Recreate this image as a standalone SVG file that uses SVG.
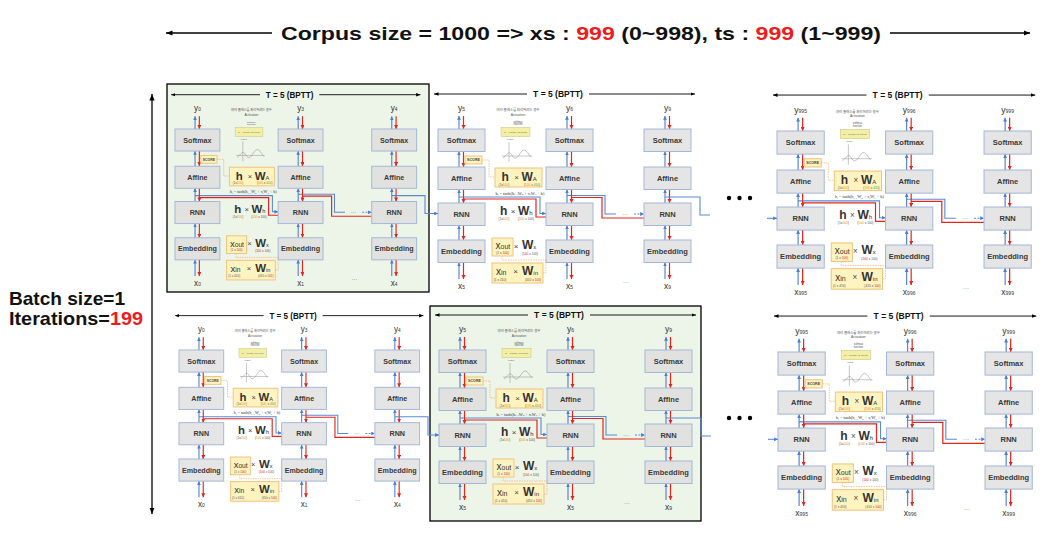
<svg xmlns="http://www.w3.org/2000/svg" xmlns:xlink="http://www.w3.org/1999/xlink" width="1046" height="544" viewBox="0 0 1046 544">
<style>
text{font-family:"Liberation Sans",Arial,sans-serif}
.bx{fill:#dcdcdc;fill-opacity:.75;stroke:#a3b7d9;stroke-width:1}
.bt{font-size:7.5px;font-weight:bold;fill:#3a3a3a;text-anchor:middle}
.ub{stroke:#4a7dd1;stroke-width:1.1;fill:none;marker-end:url(#ab)}
.dr{stroke:#e3261c;stroke-width:1.2;fill:none;marker-end:url(#ar)}
.hb{stroke:#5b89d6;stroke-width:1.1;fill:none}
.hba{stroke:#5b89d6;stroke-width:1.1;fill:none;marker-end:url(#ab)}
.hr{stroke:#e3261c;stroke-width:1.2;fill:none}
.tl{stroke:#000;stroke-width:.9}
.tt{font-size:8.5px;font-weight:bold;text-anchor:middle;fill:#111}
.lb{font-size:8.5px;fill:#333;text-anchor:middle}
.sb{font-size:5px}
.od{stroke:#f2a552;stroke-width:.6;stroke-dasharray:1.5 1;fill:none}
.yb{fill:#fff3bf;stroke:#f4c27c;stroke-width:1}
.mh{font-size:12px;font-weight:bold;fill:#333}
.mx{font-size:8px;fill:#444;text-anchor:middle}
.ms{font-size:6px;font-weight:normal}
.dm{font-size:3.2px;fill:#555;text-anchor:middle}
.o{fill:#f08a00}
.g{fill:#3aa33a}
.r{fill:#e02020}
.tiny{font-size:3px;fill:#555;text-anchor:middle}
.big{font-size:19px;font-weight:bold;fill:#111}
.ka{stroke:#000;stroke-width:1.3;fill:none}
</style>
<defs>
<marker id="ab" viewBox="0 0 6 6" refX="6" refY="3" markerWidth="3.5" markerHeight="3.5" orient="auto"><path d="M0,0L6,3L0,6z" fill="#4a7dd1"/></marker>
<marker id="ar" viewBox="0 0 6 6" refX="6" refY="3" markerWidth="3.5" markerHeight="3.5" orient="auto"><path d="M0,0L6,3L0,6z" fill="#e3261c"/></marker>
<marker id="ak" viewBox="0 0 10 10" refX="10" refY="5" markerWidth="5" markerHeight="5" orient="auto-start-reverse"><path d="M0,1L10,5L0,9z" fill="#000"/></marker>
<g id="col">
<line class="ub" x1="21" y1="0" x2="21" y2="-13"/>
<line class="dr" x1="25.5" y1="-13" x2="25.5" y2="0"/>
<line class="ub" x1="21" y1="38" x2="21" y2="22.5"/>
<line class="dr" x1="25.5" y1="22.5" x2="25.5" y2="38"/>
<line class="ub" x1="21" y1="74" x2="21" y2="60.5"/>
<line class="dr" x1="25.5" y1="60.5" x2="25.5" y2="74"/>
<line class="ub" x1="21" y1="111" x2="21" y2="96.5"/>
<line class="dr" x1="25.5" y1="96.5" x2="25.5" y2="111"/>
<line class="ub" x1="21" y1="150" x2="21" y2="133.5"/>
<line class="dr" x1="25.5" y1="133.5" x2="25.5" y2="150"/>
<rect class="bx" x="0" y="0" width="47" height="22.5"/>
<rect class="bx" x="0" y="38" width="47" height="22.5"/>
<rect class="bx" x="0" y="74" width="47" height="22.5"/>
<rect class="bx" x="0" y="111" width="47" height="22.5"/>
<text class="bt" x="23.5" y="14">Softmax</text>
<text class="bt" x="23.5" y="52">Affine</text>
<text class="bt" x="23.5" y="88">RNN</text>
<text class="bt" x="23.5" y="125">Embedding</text>
</g>
<g id="panel">
<line class="tl" x1="-4" y1="-35" x2="89" y2="-35" marker-start="url(#ak)"/>
<line class="tl" x1="151" y1="-35" x2="257" y2="-35" marker-end="url(#ak)"/>
<text class="tt" x="120" y="-32">T = 5 (BPTT)</text>
<path class="hba" d="M21 68H102V84.5H108"/>
<path class="hr" d="M108 88H98V70H25.5"/>
<path class="hb" d="M129 66.5H167V85H178"/>
<path class="hba" d="M196 85H206" stroke-dasharray="2 1.5"/>
<path class="hr" d="M206 89H164V68.5H133.5"/>
<text class="tiny" x="187" y="86.5" style="font-size:6px">···</text>
<text class="tiny" x="188" y="155" style="font-size:6px">···</text>
<use xlink:href="#col" href="#col"/>
<use xlink:href="#col" href="#col" x="108"/>
<use xlink:href="#col" href="#col" x="206"/>
<g id="ann">
<text class="tiny" x="80" y="-18" style="font-family:'Noto Sans CJK KR',sans-serif;font-size:3.4px">여러 클래스를 처리하려는 경우</text>
<text class="tiny g" x="80" y="-13.5" style="font-size:3.4px">Activation</text>
<text class="tiny" x="80" y="-6.5" style="font-size:2.6px">softmax</text>
<text class="tiny" x="80" y="-3.6" style="font-size:2.6px">function</text>
<rect x="63" y="-1.5" width="29" height="9" fill="#f3f0a6" stroke="#c4c27a" stroke-width=".5"/>
<text class="tiny" x="77.5" y="4" style="font-size:2.3px">yk = exp(ak) / Σ exp(ai)</text>
<text class="tiny" x="72" y="11" style="font-size:2.2px">output</text>
<path d="M71 13V33M64 27H94" stroke="#777" stroke-width=".4"/>
<path d="M65 29C68 27 70 23 72 24C74 25 75 30 78 29C81 28 83 21 86 21C89 21 91 26 93 28" stroke="#888" stroke-width=".5" fill="none"/>
<rect class="yb" x="27" y="27" width="17" height="8" stroke-width=".7"/>
<text class="tiny" x="35.5" y="32.3" style="font-size:3.6px;font-weight:bold;fill:#444">SCORE</text>
<path class="od" d="M44 31H51V48H57"/>
<rect class="yb" x="57" y="39" width="47" height="19"/>
<text class="mh" x="63.5" y="52">h</text>
<text class="mx" x="78.5" y="51">×</text>
<text class="mh" x="83.5" y="52">W<tspan class="ms">A</tspan></text>
<text class="dm" x="66" y="56.5">(1x<tspan class="o">100</tspan>)</text>
<text class="dm" x="94" y="56.5">(<tspan class="o">100</tspan> x <tspan class="g">410</tspan>)</text>
<text x="82" y="65.5" style="font-family:'Liberation Serif',serif;font-size:4.3px;fill:#333;text-anchor:middle">h<tspan style="font-size:2.8px" dy="0.8">t</tspan><tspan dy="-0.8"> = tanh(h</tspan><tspan style="font-size:2.8px" dy="0.8">t−1</tspan><tspan dy="-0.8">W</tspan><tspan style="font-size:2.8px" dy="0.8">h</tspan><tspan dy="-0.8"> + x</tspan><tspan style="font-size:2.8px" dy="0.8">t</tspan><tspan dy="-0.8">W</tspan><tspan style="font-size:2.8px" dy="0.8">x</tspan><tspan dy="-0.8"> + b)</tspan></text>
<text class="mh" x="62" y="85.5">h</text>
<text class="mx" x="75" y="84.5">×</text>
<text class="mh" x="80" y="85.5">W<tspan class="ms">h</tspan></text>
<text class="dm" x="66" y="91">(1x<tspan class="o">100</tspan>)</text>
<text class="dm" x="88" y="91">(<tspan class="o">100</tspan> x 100)</text>
<rect class="yb" x="54" y="109" width="21" height="18"/>
<text x="57.5" y="120" style="font-size:10px;fill:#333">x<tspan style="font-size:7px">out</tspan></text>
<text class="dm" x="64.5" y="125">(1 x <tspan class="r">100</tspan>)</text>
<text class="mx" x="78" y="119.5">×</text>
<text class="mh" x="84" y="120">W<tspan class="ms">x</tspan></text>
<text class="dm" x="92" y="125.5">(<tspan class="r">100</tspan> x 100)</text>
<rect class="yb" x="54" y="134" width="51" height="20"/>
<text x="58" y="146" style="font-size:10px;fill:#333">x<tspan style="font-size:7px">in</tspan></text>
<text class="mx" x="77.5" y="145">×</text>
<text class="mh" x="84" y="146">W<tspan class="ms">in</tspan></text>
<text class="dm" x="62" y="151.5">(1 x 410)</text>
<text class="dm" x="95" y="151.5">(410 x <tspan class="r">100</tspan>)</text>
<path class="od" d="M105 144H108V131H64V127.5"/>
</g>
</g>
</defs>

<rect width="1046" height="544" fill="#fff"/>

<g id="title">
<line class="ka" x1="166" y1="33" x2="272" y2="33" marker-start="url(#ak)"/>
<line class="ka" x1="890" y1="33" x2="1030" y2="33" marker-end="url(#ak)"/>
<text class="big" x="281" y="39.5" textLength="600" lengthAdjust="spacingAndGlyphs">Corpus size = 1000 =&gt; xs : <tspan fill="#f21a1a">999</tspan> (0~998), ts : <tspan fill="#f21a1a">999</tspan> (1~999)</text>
</g>

<g id="batch">
<line class="ka" x1="152" y1="94" x2="152" y2="514" marker-start="url(#ak)" marker-end="url(#ak)"/>
<text class="big" x="9" y="305" textLength="116" lengthAdjust="spacingAndGlyphs">Batch size=1</text>
<text class="big" x="9" y="325" textLength="134" lengthAdjust="spacingAndGlyphs">Iterations=<tspan fill="#f21a1a">199</tspan></text>
</g>

<rect x="167" y="84" width="262" height="208" fill="#edf4e8" stroke="#000" stroke-width="1.3"/>
<rect x="430" y="306" width="271" height="215" fill="#edf4e8" stroke="#000" stroke-width="1.3"/>

<g id="panel-top-1" transform="translate(175,129) scale(0.955,0.98)">
<use xlink:href="#panel" href="#panel"/>
<text class="lb" x="23.5" y="-18">y<tspan class="sb">0</tspan></text>
<text class="lb" x="131.5" y="-18">y<tspan class="sb">3</tspan></text>
<text class="lb" x="229.5" y="-18">y<tspan class="sb">4</tspan></text>
<text class="lb" x="23.5" y="160">x<tspan class="sb">0</tspan></text>
<text class="lb" x="131.5" y="160">x<tspan class="sb">1</tspan></text>
<text class="lb" x="229.5" y="160">x<tspan class="sb">4</tspan></text>
</g>
<g id="panel-top-2" transform="translate(438,129)">
<use xlink:href="#panel" href="#panel"/>
<text class="lb" x="23.5" y="-18">y<tspan class="sb">5</tspan></text>
<text class="lb" x="131.5" y="-18">y<tspan class="sb">6</tspan></text>
<text class="lb" x="229.5" y="-18">y<tspan class="sb">9</tspan></text>
<text class="lb" x="23.5" y="160">x<tspan class="sb">5</tspan></text>
<text class="lb" x="131.5" y="160">x<tspan class="sb">5</tspan></text>
<text class="lb" x="229.5" y="160">x<tspan class="sb">9</tspan></text>
</g>
<g id="panel-top-3" transform="translate(777,131) scale(1.005,1.027)">
<use xlink:href="#panel" href="#panel"/>
<text class="lb" x="23.5" y="-18">y<tspan class="sb">995</tspan></text>
<text class="lb" x="131.5" y="-18">y<tspan class="sb">996</tspan></text>
<text class="lb" x="229.5" y="-18">y<tspan class="sb">999</tspan></text>
<text class="lb" x="23.5" y="160">x<tspan class="sb">995</tspan></text>
<text class="lb" x="131.5" y="160">x<tspan class="sb">996</tspan></text>
<text class="lb" x="229.5" y="160">x<tspan class="sb">999</tspan></text>
</g>
<g id="panel-bottom-1" transform="translate(179,350) scale(0.951,0.982)">
<use xlink:href="#panel" href="#panel"/>
<text class="lb" x="23.5" y="-18">y<tspan class="sb">0</tspan></text>
<text class="lb" x="131.5" y="-18">y<tspan class="sb">3</tspan></text>
<text class="lb" x="229.5" y="-18">y<tspan class="sb">4</tspan></text>
<text class="lb" x="23.5" y="160">x<tspan class="sb">0</tspan></text>
<text class="lb" x="131.5" y="160">x<tspan class="sb">1</tspan></text>
<text class="lb" x="229.5" y="160">x<tspan class="sb">4</tspan></text>
</g>
<g id="panel-bottom-2" transform="translate(439,350)">
<use xlink:href="#panel" href="#panel"/>
<text class="lb" x="23.5" y="-18">y<tspan class="sb">5</tspan></text>
<text class="lb" x="131.5" y="-18">y<tspan class="sb">6</tspan></text>
<text class="lb" x="229.5" y="-18">y<tspan class="sb">9</tspan></text>
<text class="lb" x="23.5" y="160">x<tspan class="sb">5</tspan></text>
<text class="lb" x="131.5" y="160">x<tspan class="sb">5</tspan></text>
<text class="lb" x="229.5" y="160">x<tspan class="sb">9</tspan></text>
</g>
<g id="panel-bottom-3" transform="translate(778,352) scale(1.005,1.027)">
<use xlink:href="#panel" href="#panel"/>
<text class="lb" x="23.5" y="-18">y<tspan class="sb">995</tspan></text>
<text class="lb" x="131.5" y="-18">y<tspan class="sb">996</tspan></text>
<text class="lb" x="229.5" y="-18">y<tspan class="sb">999</tspan></text>
<text class="lb" x="23.5" y="160">x<tspan class="sb">995</tspan></text>
<text class="lb" x="131.5" y="160">x<tspan class="sb">996</tspan></text>
<text class="lb" x="229.5" y="160">x<tspan class="sb">999</tspan></text>
</g>

<g id="connectors">
<path class="hba" d="M392 195.6H425V213.5H438"/>
<path class="hba" d="M395 416.8H428V435H439"/>
<path class="hb" d="M665 197H700V215H710"/>
<path class="hb" d="M666 418H701V436H711"/>
<path class="hba" d="M767 218.3H777"/>
<path class="hba" d="M768 439.3H778"/>
</g>

<g id="ellipsis" fill="#000">
<circle cx="729" cy="198" r="2.2"/><circle cx="739.5" cy="198" r="2.2"/><circle cx="750" cy="198" r="2.2"/>
<circle cx="729" cy="418" r="2.2"/><circle cx="739.5" cy="418" r="2.2"/><circle cx="750" cy="418" r="2.2"/>
</g>
</svg>
